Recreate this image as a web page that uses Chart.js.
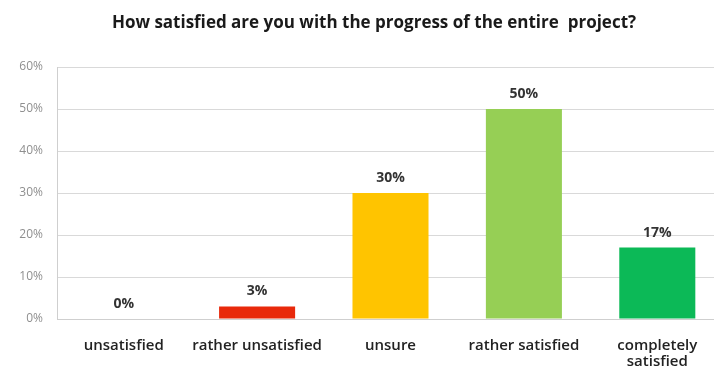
<!DOCTYPE html>
<html>
<head>
<meta charset="utf-8">
<script src="https://cdn.jsdelivr.net/npm/chart.js@4"></script>
<style>
    body { margin: 0; overflow: hidden; background: #fff; }
    #wrap { width: 730px; height: 371px; }
</style>
</head>
<body>
<div id="wrap"><canvas id="myChart"></canvas></div>
<script>
const titleText = 'How satisfied are you with the progress of the entire  project?';

const labels = [
    'unsatisfied',
    'rather unsatisfied',
    'unsure',
    'rather satisfied',
    ['completely', 'satisfied'],
];

const values = [0, 3, 30, 50, 17];

const barColors = ['#E8290B', '#E8290B', '#FFC400', '#96CF55', '#0CB957'];

const yTicks = [0, 10, 20, 30, 40, 50, 60];

// labels above each bar + title (title sits a bit right of canvas centre)
const extras = {
    id: 'extras',
    afterDatasetsDraw(chart) {
        const ctx = chart.ctx;
        const meta = chart.getDatasetMeta(0);
        ctx.save();
        ctx.font = 'bold 14px "Open Sans"';
        ctx.fillStyle = '#333';
        ctx.textAlign = 'center';
        ctx.textBaseline = 'alphabetic';
        meta.data.forEach((bar, i) => {
            ctx.fillText(values[i] + '%', bar.x, bar.y - 11);
        });
        ctx.font = 'bold 17px "Open Sans"';
        ctx.fillStyle = '#1a1a1a';
        ctx.fillText(titleText, 374, 28);
        ctx.restore();
    }
};

const data = {
    labels: labels,
    datasets: [{
        data: values,
        backgroundColor: barColors,
        barPercentage: 0.57,
        categoryPercentage: 1,
    }]
};

const config = {
    type: 'bar',
    data: data,
    plugins: [extras],
    options: {
        responsive: true,
        maintainAspectRatio: false,
        animation: false,
        layout: { padding: { top: 67, right: 6, bottom: 2, left: 0 } },
        plugins: {
            legend: { display: false },
            tooltip: { enabled: false },
            title: { display: false },
        },
        scales: {
            x: {
                grid: { display: false, drawTicks: false },
                border: { color: '#cfcfcf' },
                ticks: {
                    color: '#222',
                    font: { family: 'Open Sans', size: 15, weight: '600', lineHeight: 1.1 },
                    padding: 18,
                    maxRotation: 0,
                    autoSkip: false,
                },
                afterFit(scale) { scale.height = 50; }
            },
            y: {
                min: 0,
                max: 60,
                afterBuildTicks(scale) {
                    scale.ticks = yTicks.map(v => ({ value: v }));
                },
                grid: { color: '#d9d9d9', drawTicks: false },
                border: { color: '#cfcfcf' },
                ticks: {
                    color: '#8f8f8f',
                    font: { family: 'Open Sans', size: 12 },
                    padding: 14,
                    callback: v => v + '%',
                },
                afterFit(scale) { scale.width = 57; }
            }
        }
    }
};

const chart = new Chart(
    document.getElementById('myChart'),
    config
);
</script>
</body>
</html>
